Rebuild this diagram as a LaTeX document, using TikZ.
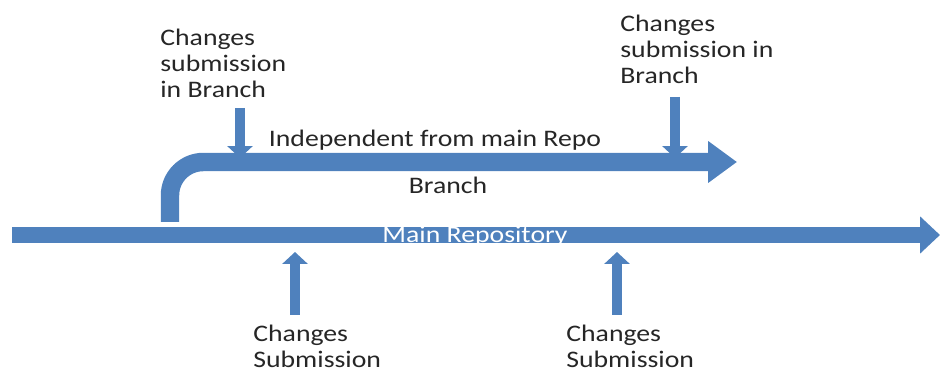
\documentclass[tikz,border=0pt]{standalone}
\usepackage{fontspec}
\setmainfont[FakeStretch=1.17]{Carlito}
\usetikzlibrary{arrows.meta}
\definecolor{repoblue}{HTML}{4F81BD}
\tikzset{
  mainarrow/.style={repoblue, line width=9.1pt, -{Triangle[width=20.4pt,length=11.3pt]}},
  brancharrow/.style={repoblue, line width=10.5pt, rounded corners=19pt, -{Triangle[width=22.7pt,length=16.4pt]}},
  changearrow/.style={repoblue, line width=5.7pt, -{Triangle[width=14.2pt,length=6.8pt]}},
  note/.style={align=left, inner sep=0pt, text=black!85, font=\fontsize{13.5}{14.74}\selectfont}
}

\begin{document}
\begin{tikzpicture}[x=0.02cm,y=-0.02cm]
\useasboundingbox (0,0) rectangle (940,374);
\coordinate (M0) at (12,235);
\coordinate (M1) at (940,235);
\coordinate (B0) at (170,222);
\coordinate (B1) at (737,162);
\coordinate (L0) at (240,108);
\coordinate (L1) at (240,158);
\coordinate (R0) at (675,97);
\coordinate (R1) at (675,158);
\coordinate (U0) at (295,315);
\coordinate (U1) at (295,252);
\coordinate (V0) at (617,315);
\coordinate (V1) at (617,252);
\draw[mainarrow] (M0) -- (M1);
\draw[brancharrow] (B0) |- (B1);
\draw[changearrow] (L0) -- (L1);
\draw[changearrow] (R0) -- (R1);
\draw[changearrow] (U0) -- (U1);
\draw[changearrow] (V0) -- (V1);
\node[note, text=white] (main) at (475,236) {Main Repository};
\node[note] (indep) at (435,140) {Independent from main Repo};
\node[note] (branch) at (448,185) {Branch};
\node[note, anchor=west] (subL) at (160,63) {Changes\\submission\\in Branch};
\node[note, anchor=west] (subR) at (620,49) {Changes\\submission in\\Branch};
\node[note, anchor=west] (chL) at (253,346) {Changes\\Submission};
\node[note, anchor=west] (chR) at (566,346) {Changes\\Submission};
\end{tikzpicture}
\end{document}
